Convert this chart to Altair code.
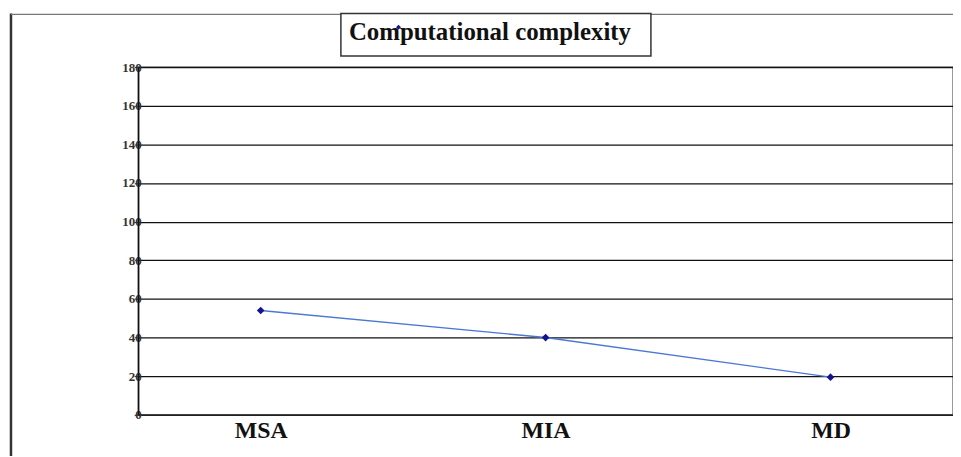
import altair as alt
import pandas as pd

categories = ["MSA", "MIA", "MD"]
values = [54, 40, 19.5]
y_ticks = [0, 20, 40, 60, 80, 100, 120, 140, 160, 180]
title_text = "Computational complexity"

df = pd.DataFrame({"method": categories, "value": values})

serif = "Liberation Serif"

x_enc = alt.X("method:N", sort=categories,
              scale=alt.Scale(type="point", padding=0.43),
              axis=alt.Axis(title=None, labelFont=serif, labelFontSize=24,
                            labelFontWeight="bold", labelColor="#111",
                            labelAngle=0, ticks=False, labelPadding=4,
                            domainColor="#222", domainWidth=1.5, grid=False))
y_enc = alt.Y("value:Q",
              scale=alt.Scale(domain=[0, 180], nice=False),
              axis=alt.Axis(title=None, values=y_ticks, tickCount=10, labelFont=serif,
                            labelFontSize=13, labelFontWeight="bold",
                            labelColor="#333", tickSize=4, tickColor="#222",
                            labelPadding=-7, labelOverlap=False,
                            domainColor="#111", domainWidth=1.5,
                            grid=True, gridColor="#111", gridWidth=1.3))

base = alt.Chart(df).encode(x=x_enc, y=y_enc)

line = base.mark_line(color="#4a78d2", strokeWidth=1.4)
points = base.mark_point(shape="diamond", filled=True, color="#14148c", size=60, opacity=1)

deco = alt.Chart(pd.DataFrame({"d": [0]}))
frame_left = deco.mark_rule(color="#333", strokeWidth=2.5).encode(
    x=alt.value(-128), y=alt.value(-54), y2=alt.value(395))
frame_top = deco.mark_rule(color="#777", strokeWidth=1.2).encode(
    x=alt.value(-128), x2=alt.value(825), y=alt.value(-53))
title_box = deco.mark_rect(fill="white", stroke="#333", strokeWidth=1.5).encode(
    x=alt.value(204), x2=alt.value(516), y=alt.value(-54), y2=alt.value(-11))
title = deco.mark_text(text=title_text, font=serif, fontSize=25, fontWeight="bold",
                       color="#111", align="center", baseline="middle").encode(
    x=alt.value(354), y=alt.value(-35))
title_marker = deco.mark_point(shape="diamond", filled=True, color="#14148c", size=25, opacity=1).encode(
    x=alt.value(262), y=alt.value(-40))

chart = alt.layer(line, points, frame_left, frame_top, title_box, title, title_marker).properties(
    width=820, height=350,
    autosize=alt.AutoSizeParams(type="none"),
    padding={"left": 131, "top": 58, "right": 0, "bottom": 40},
    background="white",
).configure_view(stroke="#777", strokeWidth=1.5)

chart.save("out.html", embed_options={"renderer": "svg", "actions": False})
